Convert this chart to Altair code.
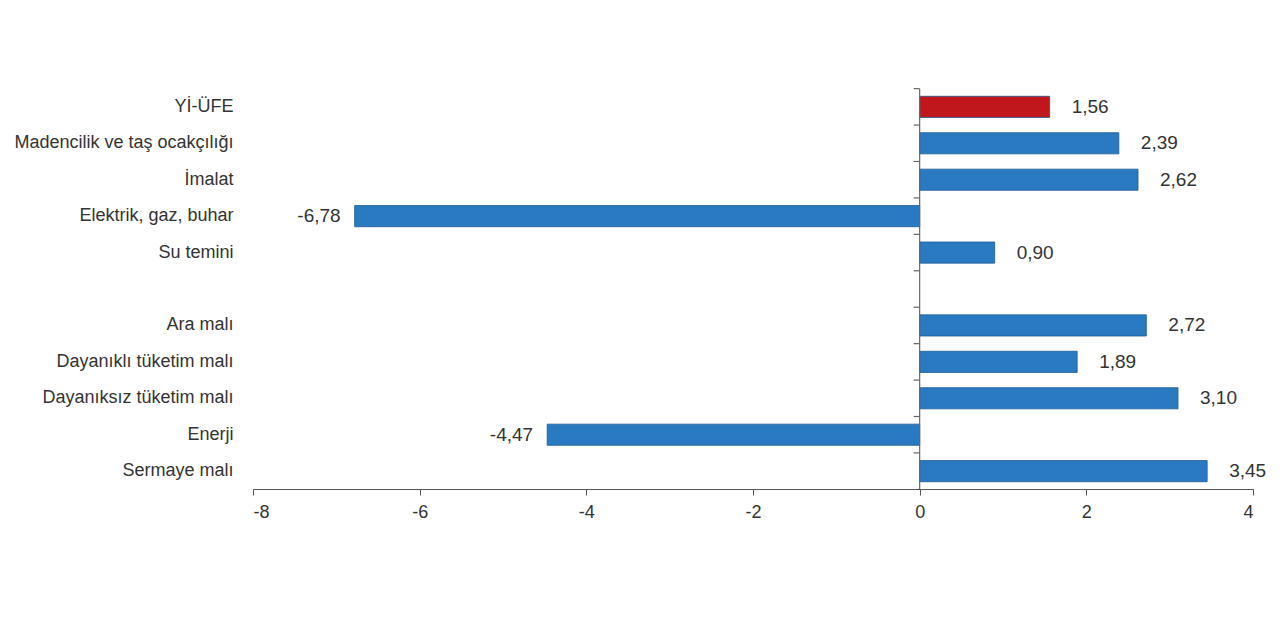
import altair as alt
import pandas as pd

categories = ["Yİ-ÜFE", "Madencilik ve taş ocakçılığı", "İmalat", "Elektrik, gaz, buhar",
              "Su temini", "Ara malı", "Dayanıklı tüketim malı", "Dayanıksız tüketim malı",
              "Enerji", "Sermaye malı"]
values = [1.56, 2.39, 2.62, -6.78, 0.90, 2.72, 1.89, 3.10, -4.47, 3.45]
groups = ["total", "sector", "sector", "sector", "sector", "mig", "mig", "mig", "mig", "mig"]
x_ticks = [-8, -6, -4, -2, 0, 2, 4]

# row order, with an empty spacer row between the two groups
row_order = categories[:5] + [" "] + categories[5:]

df = pd.DataFrame({"cat": categories, "val": values, "grp": groups})
df["lbl"] = [f"{v:.2f}".replace(".", ",") for v in values]
df["kind"] = ["total" if g == "total" else "other" for g in groups]

FONT = "Liberation Sans"
PAD_INNER = 0.42
HEIGHT = 400
y_scale = alt.Scale(domain=row_order, paddingInner=PAD_INNER, paddingOuter=0.2)
y_enc = alt.Y("cat:N", sort=row_order, scale=y_scale,
              axis=alt.Axis(title=None, domain=False, ticks=False, labelFont=FONT,
                            labelFontSize=18, labelColor="#333333", labelPadding=20,
                            labelLimit=300))
x_scale = alt.Scale(domain=[-8, 4], nice=False)

bars = alt.Chart(df).mark_bar(stroke="#1d5a93", strokeWidth=0.8).encode(
    x=alt.X("val:Q", scale=x_scale,
            axis=alt.Axis(title=None, values=x_ticks, grid=False, labelFont=FONT,
                          labelFontSize=18, labelColor="#333333", domainColor="#555555",
                          tickColor="#555555", tickSize=6, labelPadding=8,
                          labelExpr="toString(datum.value)")),
    y=y_enc,
    color=alt.Color("kind:N", scale=alt.Scale(domain=["total", "other"],
                                              range=["#c0171c", "#2a7ac2"]), legend=None),
)

pos = alt.Chart(df[df["val"] >= 0]).mark_text(align="left", dx=22, font=FONT, fontSize=19,
                                              color="#333333").encode(
    x=alt.X("val:Q", scale=x_scale), y=y_enc, text="lbl:N")
neg = alt.Chart(df[df["val"] < 0]).mark_text(align="right", dx=-14, font=FONT, fontSize=19,
                                             color="#333333").encode(
    x=alt.X("val:Q", scale=x_scale), y=y_enc, text="lbl:N")

zero = alt.Chart(pd.DataFrame({"z": [0]})).mark_rule(color="#666666", strokeWidth=1.2).encode(
    x=alt.X("z:Q", scale=x_scale))

# small tick marks on the zero line, between rows
step = HEIGHT / (len(row_order) - PAD_INNER + 2 * 0.2)
tick_df = pd.DataFrame({"cat": row_order, "z": [0] * len(row_order), "z2": [0] * len(row_order)})
zticks = alt.Chart(tick_df).mark_rule(color="#666666", strokeWidth=1.2, x2Offset=-6,
                                      yOffset=-PAD_INNER * step / 2).encode(
    x=alt.X("z:Q", scale=x_scale), x2="z2:Q",
    y=alt.Y("cat:N", sort=row_order, scale=y_scale, bandPosition=0))

chart = alt.layer(bars, zero, zticks, pos, neg).properties(
    width=1000, height=HEIGHT,
    padding={"left": 5, "top": 80, "right": 5, "bottom": 5},
).configure_view(stroke=None)

chart.save("out.html", embed_options={"renderer": "svg", "actions": False})
